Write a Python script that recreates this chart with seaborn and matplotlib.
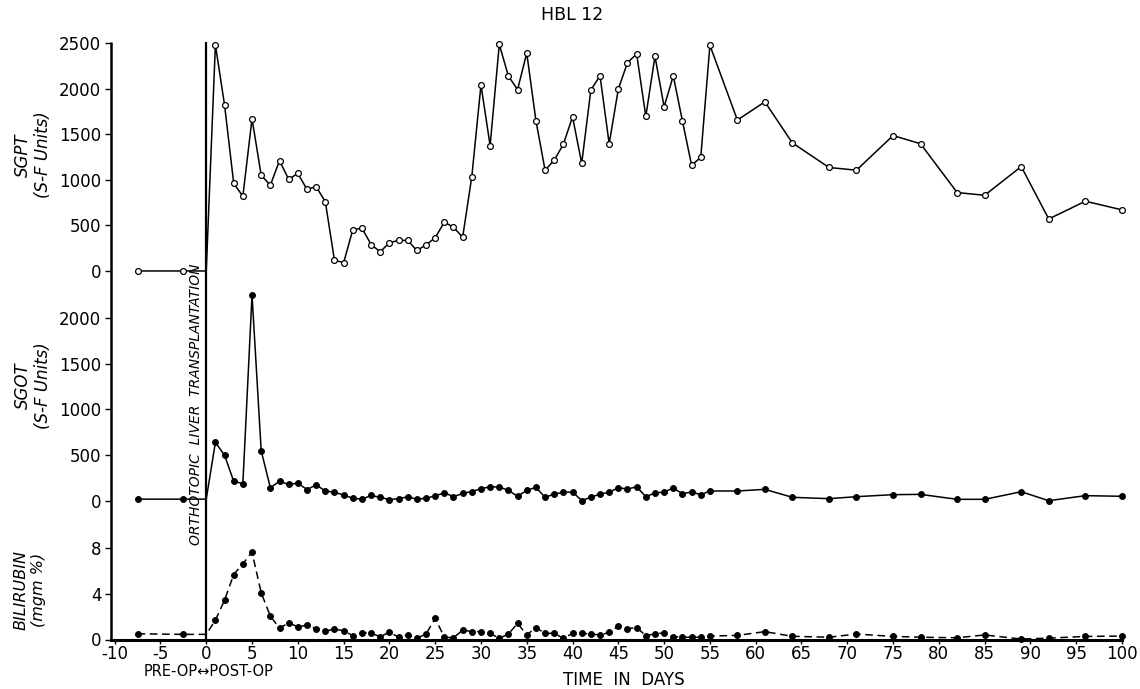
import matplotlib
matplotlib.use("Agg")
import matplotlib.pyplot as plt
from matplotlib.lines import Line2D
import seaborn as sns
import pandas as pd

days = [-7.5, -2.5, 0,
        1, 2, 3, 4, 5, 6, 7, 8, 9, 10, 11, 12, 13, 14, 15, 16, 17, 18, 19, 20,
        21, 22, 23, 24, 25, 26, 27, 28, 29, 30, 31, 32, 33, 34, 35, 36, 37, 38,
        39, 40, 41, 42, 43, 44, 45, 46, 47, 48, 49, 50, 51, 52, 53, 54, 55,
        58, 61, 64, 68, 71, 75, 78, 82, 85, 89, 92, 96, 100]

sgpt = [0, 0, 0,
        2480, 1820, 960, 820, 1670, 1050, 940, 1210, 1005, 1070, 895, 925, 760,
        120, 90, 450, 470, 290, 210, 310, 335, 335, 225, 285, 365, 535, 480, 370,
        1035, 2040, 1375, 2485, 2135, 1990, 2390, 1650, 1105, 1215, 1390, 1690,
        1180, 1985, 2140, 1395, 1995, 2285, 2380, 1695, 2355, 1800, 2140, 1645,
        1160, 1245, 2475,
        1655, 1855, 1405, 1135, 1105, 1485, 1395, 860, 830, 1145, 570, 765, 670]

sgot = [20, 20, 20,
        640, 500, 215, 190, 2250, 550, 145, 215, 180, 195, 125, 175, 110, 95, 65,
        30, 20, 60, 40, 15, 25, 45, 20, 30, 55, 90, 47, 82, 103, 134, 155, 152,
        116, 51, 116, 149, 40, 76, 94, 98, 5, 40, 76, 94, 145, 130, 155, 47, 87,
        98, 141, 80, 98, 69, 109,
        109, 127, 40, 25, 47, 69, 72, 18, 18, 101, 3, 58, 51]

bilirubin = [0.5, 0.45, 0.45,
             1.7, 3.45, 5.7, 6.65, 7.65, 4.1, 2.05, 1.0, 1.45, 1.12, 1.24, 0.95,
             0.75, 0.9, 0.78, 0.33, 0.6, 0.55, 0.25, 0.64, 0.2, 0.4, 0.12, 0.47,
             1.86, 0.2, 0.15, 0.82, 0.7, 0.69, 0.54, 0.1, 0.48, 1.42, 0.4, 1.04,
             0.54, 0.54, 0.1, 0.54, 0.54, 0.48, 0.4, 0.62, 1.18, 0.95, 1.04, 0.35,
             0.48, 0.6, 0.25, 0.2, 0.2, 0.2, 0.3,
             0.36, 0.69, 0.28, 0.2, 0.48, 0.27, 0.2, 0.15, 0.4, 0.04, 0.12, 0.27, 0.3]

x_ticks = [-10, -5, 0, 5, 10, 15, 20, 25, 30, 35, 40, 45, 50, 55, 60, 65, 70,
           75, 80, 85, 90, 95, 100]
sgpt_ticks = [0, 500, 1000, 1500, 2000, 2500]
sgot_ticks = [0, 500, 1000, 1500, 2000]
bili_ticks = [0, 4, 8]

df = pd.DataFrame({"day": days, "sgpt": sgpt, "sgot": sgot, "bili": bilirubin})

sns.set_style("white")
plt.rcParams["font.family"] = ["DejaVu Sans"]
plt.rcParams["text.color"] = "black"
plt.rcParams["axes.labelcolor"] = "black"
plt.rcParams["xtick.color"] = "black"
plt.rcParams["ytick.color"] = "black"

W, H = 1140, 689
fig = plt.figure(figsize=(W / 100, H / 100), dpi=100)

left = 111 / W
width = (1122 - 111) / W

def fr(top_px, bot_px):
    return [left, (H - bot_px) / H, width, (bot_px - top_px) / H]

ax1 = fig.add_axes(fr(42, 282))
ax2 = fig.add_axes(fr(282, 520))
ax3 = fig.add_axes(fr(520, 639.5))

mark_idx = [i for i in range(len(days)) if days[i] != 0]

sns.lineplot(data=df, x="day", y="sgpt", ax=ax1, color="black", lw=1.1,
             marker="o", markersize=4.2, markerfacecolor="white",
             markeredgecolor="black", markeredgewidth=0.9, markevery=mark_idx,
             sort=False, estimator=None, clip_on=False, zorder=3)
sns.lineplot(data=df, x="day", y="sgot", ax=ax2, color="black", lw=1.1,
             marker="o", markersize=4.2, markerfacecolor="black",
             markeredgecolor="black", markevery=mark_idx,
             sort=False, estimator=None, clip_on=False, zorder=3)
sns.lineplot(data=df, x="day", y="bili", ax=ax3, color="black", lw=1.1,
             marker="o", markersize=4.2, markerfacecolor="black",
             markeredgecolor="black", markevery=mark_idx, dashes=False,
             linestyle=(0, (5, 3)), sort=False, estimator=None, clip_on=False,
             zorder=3)

ax1.set_ylim(-121, 2511)
ax2.set_ylim(-208, 2393)
ax3.set_ylim(0, 10.48)

for ax, ticks in ((ax1, sgpt_ticks), (ax2, sgot_ticks), (ax3, bili_ticks)):
    ax.set_xlim(-10.4, 100)
    ax.set_yticks(ticks)
    ax.set_yticklabels([str(t) for t in ticks])
    ax.set_xlabel("")
    ax.set_ylabel("")
    ax.axvline(0, color="black", lw=1.6, zorder=1)
    for s in ("top", "right", "left"):
        ax.spines[s].set_visible(False)
    ax.tick_params(axis="y", direction="out", length=4, width=1, colors="black",
                   labelsize=12, pad=3, left=True)
    ax.patch.set_alpha(0)

for ax in (ax1, ax2):
    ax.spines["bottom"].set_visible(False)
    ax.set_xticks([])

# continuous left axis line shared by the three stacked panels
fig.add_artist(Line2D([left, left], [1 - 42 / H, 1 - 640 / H],
                      transform=fig.transFigure, color="black", lw=1.8,
                      solid_capstyle="butt"))

ax3.spines["bottom"].set_linewidth(2.2)
ax3.spines["bottom"].set_color("black")
ax3.set_xticks(x_ticks)
ax3.set_xticklabels([str(t) for t in x_ticks])
ax3.tick_params(axis="x", direction="out", length=3, width=1, colors="black",
                labelsize=12, pad=1, bottom=True)

fig.text(572 / W, 1 - 15 / H, "HBL 12", ha="center", va="center", fontsize=12.5)
fig.text(33 / W, 1 - 155 / H, "SGPT\n(S-F Units)", rotation=90, ha="center",
         va="center", fontsize=12, style="italic", multialignment="center",
         linespacing=1.2)
fig.text(33 / W, 1 - 386 / H, "SGOT\n(S-F Units)", rotation=90, ha="center",
         va="center", fontsize=12, style="italic", multialignment="center",
         linespacing=1.2)
fig.text(30 / W, 1 - 590 / H, "BILIRUBIN\n(mgm %)", rotation=90, ha="center",
         va="center", fontsize=11.5, style="italic", multialignment="center",
         linespacing=1.2)
fig.text(196 / W, 1 - 404 / H, "ORTHOTOPIC  LIVER  TRANSPLANTATION", rotation=90,
         ha="center", va="center", fontsize=10, style="italic")
fig.text(209 / W, 1 - 671 / H, "PRE-OP\u2194POST-OP", ha="center", va="center",
         fontsize=10.5)
fig.text(624 / W, 1 - 680 / H, "TIME  IN  DAYS", ha="center", va="center",
         fontsize=12)

fig.savefig("out.png", dpi=100)
